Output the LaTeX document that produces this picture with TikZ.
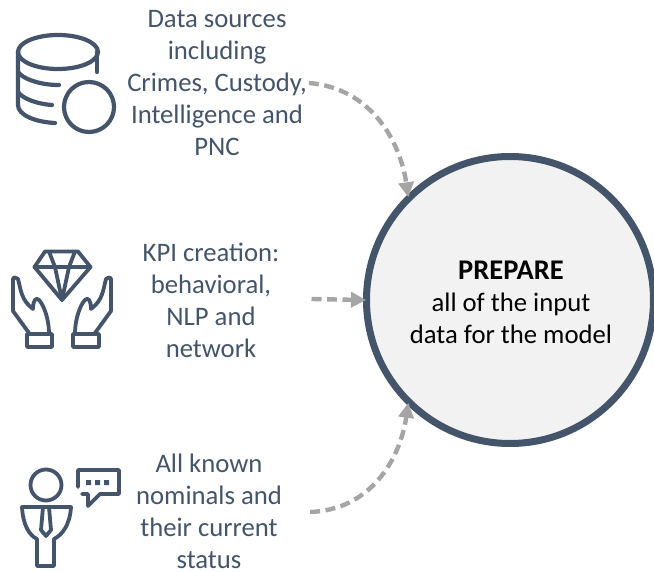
\documentclass[tikz,border=0pt]{standalone}
\usepackage{fontspec}
\setmainfont{Carlito}
\usetikzlibrary{arrows.meta}
\definecolor{slate}{HTML}{44546A}
\definecolor{flow}{HTML}{A5A5A5}
\definecolor{disc}{HTML}{F2F2F2}
\tikzset{
  lbl/.style={text=slate,font=\fontsize{26.7}{32}\selectfont,align=center,inner sep=0pt},
  icon/.style={draw=slate,line width=4.2pt,line cap=round,line join=round},
  iconthin/.style={draw=slate,line width=3.8pt,line cap=round,line join=round},
  flowline/.style={draw=flow,line width=4.4pt,dash pattern=on 10pt off 5.5pt,shorten >=-3pt,-{Triangle[length=15pt,width=15pt]}}
}
\begin{document}
\begin{tikzpicture}[x=1pt,y=-1pt]
\useasboundingbox (0,0) rectangle (654,572);
\node[circle,draw=slate,fill=disc,line width=7pt,minimum size=287pt,inner sep=0pt] (prep) at (510,300) {};
\node[lbl,text=black] (preptext) at (511,302) {{\fontsize{28.5}{32}\selectfont\textbf{PREPARE}}\\all of the input\\data for the model};
\node[lbl] (src) at (217,83) {Data sources\\including\\Crimes, Custody,\\Intelligence and\\PNC};
\node[lbl] (kpi) at (211,300) {KPI creation:\\behavioral,\\NLP and\\network};
\node[lbl] (nom) at (209,511) {All known\\nominals and\\their current\\status};
\draw[flowline] (src.east) ++(2,0) .. controls (370,88) and (400,140) .. (prep.134);
\draw[flowline] (kpi.east) ++(32,-1) -- (prep.west);
\draw[flowline] (nom.east) ++(28,1) .. controls (370,510) and (400,460) .. (prep.226);
% database icon
\draw[icon] (58,52) ellipse (40 and 17);
\draw[icon] (18,52) -- (18,105) .. controls (18,115) and (35,122) .. (55,123);
\draw[icon] (97,52) -- (97,72);
\draw[icon] (18,72) .. controls (22,78) and (38,85) .. (59,85);
\draw[icon] (18,92) .. controls (22,98) and (36,104) .. (52,105);
\draw[icon] (89,107) circle (25);
% gem and hands icon
\draw[iconthin] (45,251.5) -- (78,251.5) -- (90.5,267) -- (62,300) -- (34.5,267) -- cycle;
\draw[iconthin] (34.5,267) -- (90.5,267);
\draw[iconthin] (49,251.5) -- (55,267) -- (62,300) -- (69,267) -- (75,251.5);
\draw[iconthin] (27,334) rectangle (52,347);
\draw[iconthin] (73,334) rectangle (99,347);
\draw[iconthin] (29,333) -- (13,311) -- (13,279) .. controls (13,277) and (17,277) .. (18,279) .. controls (21,290) and (21,300) .. (33,309) .. controls (33,300) and (36,297) .. (39,300) .. controls (44,305) and (49,320) .. (49,333);
\draw[iconthin] (95,333) -- (111,311) -- (111,279) .. controls (111,277) and (107,277) .. (106,279) .. controls (103,290) and (103,300) .. (91,309) .. controls (91,300) and (88,297) .. (85,300) .. controls (80,305) and (75,320) .. (75,333);
% person and speech icon
\draw[iconthin] (46,485) circle (15.5);
\draw[iconthin] (22,507) -- (71,507) .. controls (70,525) and (62,535) .. (54,539) -- (54,566) -- (37,566) -- (37,539) .. controls (29,535) and (23,525) .. (22,507) -- cycle;
\draw[iconthin] (43,507) -- (41,530) -- (46,536) -- (51,530) -- (49,507);
\draw[iconthin] (78,487) -- (78,470) -- (119,470) -- (119,494) -- (100,494) -- (88,506) -- (88,494) -- (82,494);
\fill[slate] (86,480) rectangle (91,485) (95,480) rectangle (100,485) (104,480) rectangle (109,485);
\end{tikzpicture}
\end{document}
